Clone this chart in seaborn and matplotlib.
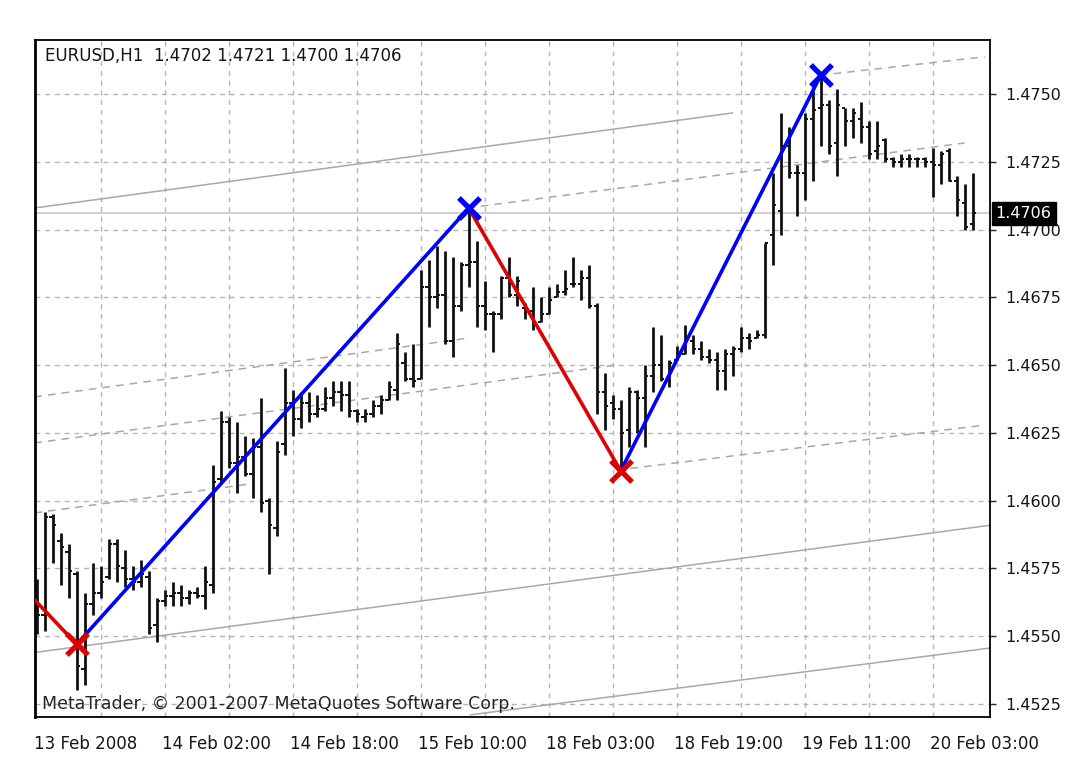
import numpy as np
import pandas as pd
import matplotlib
matplotlib.use("Agg")
import matplotlib.pyplot as plt
import matplotlib.transforms as mtrans
import seaborn as sns

# ---------------- data ----------------
opens = [1.4566, 1.4558, 1.4594, 1.4585, 1.4581, 1.4573, 1.4538, 1.4562, 1.4566, 1.4572,
         1.4584, 1.4575, 1.4571, 1.4570, 1.4572, 1.4554, 1.4563, 1.4565, 1.4566, 1.4564,
         1.4566, 1.4565, 1.4569, 1.4608, 1.4629, 1.4614, 1.4616, 1.4610, 1.4620, 1.4600,
         1.4590, 1.4621, 1.4636, 1.4630, 1.4636, 1.4632, 1.4634, 1.4638, 1.4640, 1.4639,
         1.4633, 1.4631, 1.4632, 1.4635, 1.4637, 1.4641, 1.4651, 1.4645, 1.4645, 1.4679,
         1.4675, 1.4676, 1.4659, 1.4672, 1.4687, 1.4688, 1.4672, 1.4669, 1.4669, 1.4682,
         1.4676, 1.4671, 1.4670, 1.4666, 1.4669, 1.4675, 1.4677, 1.4680, 1.4680, 1.4682,
         1.4672, 1.4640, 1.4636, 1.4634, 1.4626, 1.4640, 1.4638, 1.4646, 1.4650, 1.4645,
         1.4652, 1.4654, 1.4659, 1.4656, 1.4653, 1.4652, 1.4648, 1.4654, 1.4656, 1.4660,
         1.4660, 1.4661, 1.4698, 1.4707, 1.4731, 1.4721, 1.4721, 1.4741, 1.4745, 1.4746,
         1.4732, 1.4745, 1.4740, 1.4741, 1.4738, 1.4729, 1.4733, 1.4726, 1.4725, 1.4726,
         1.4726, 1.4726, 1.4725, 1.4724, 1.4729, 1.4718, 1.4710, 1.4702]
highs = [1.4571, 1.4596, 1.4595, 1.4588, 1.4584, 1.4574, 1.4566, 1.4577, 1.4576, 1.4586,
         1.4586, 1.4582, 1.4576, 1.4578, 1.4574, 1.4564, 1.4567, 1.4570, 1.4569, 1.4567,
         1.4568, 1.4576, 1.4613, 1.4633, 1.4631, 1.4629, 1.4624, 1.4623, 1.4638, 1.4601,
         1.4622, 1.4649, 1.4641, 1.4640, 1.4640, 1.4639, 1.4642, 1.4644, 1.4644, 1.4644,
         1.4634, 1.4634, 1.4637, 1.4639, 1.4644, 1.4662, 1.4655, 1.4658, 1.4685, 1.4689,
         1.4694, 1.4692, 1.4690, 1.4688, 1.4707, 1.4696, 1.4681, 1.4670, 1.4683, 1.4690,
         1.4683, 1.4673, 1.4679, 1.4675, 1.4679, 1.4680, 1.4685, 1.4690, 1.4685, 1.4687,
         1.4673, 1.4647, 1.4639, 1.4637, 1.4642, 1.4641, 1.4650, 1.4664, 1.4661, 1.4652,
         1.4657, 1.4665, 1.4661, 1.4659, 1.4656, 1.4655, 1.4656, 1.4657, 1.4664, 1.4662,
         1.4663, 1.4695, 1.4721, 1.4743, 1.4738, 1.4724, 1.4743, 1.4751, 1.4757, 1.4748,
         1.4752, 1.4745, 1.4745, 1.4747, 1.4740, 1.4740, 1.4734, 1.4727, 1.4728, 1.4728,
         1.4727, 1.4727, 1.4730, 1.4729, 1.4730, 1.4720, 1.4717, 1.4721]
lows = [1.4551, 1.4552, 1.4577, 1.4569, 1.4564, 1.4530, 1.4532, 1.4558, 1.4564, 1.4571,
        1.4570, 1.4568, 1.4567, 1.4568, 1.4551, 1.4548, 1.4561, 1.4561, 1.4561, 1.4562,
        1.4564, 1.4560, 1.4566, 1.4606, 1.4612, 1.4603, 1.4609, 1.4601, 1.4596, 1.4573,
        1.4587, 1.4617, 1.4624, 1.4627, 1.4629, 1.4631, 1.4633, 1.4635, 1.4633, 1.4631,
        1.4629, 1.4629, 1.4631, 1.4632, 1.4637, 1.4637, 1.4644, 1.4642, 1.4645, 1.4664,
        1.4671, 1.4658, 1.4653, 1.4670, 1.4679, 1.4664, 1.4663, 1.4655, 1.4667, 1.4675,
        1.4672, 1.4667, 1.4663, 1.4666, 1.4669, 1.4675, 1.4676, 1.4679, 1.4674, 1.4671,
        1.4632, 1.4626, 1.4630, 1.4611, 1.4620, 1.4625, 1.4620, 1.4640, 1.4644, 1.4642,
        1.4652, 1.4654, 1.4654, 1.4652, 1.4651, 1.4641, 1.4641, 1.4646, 1.4655, 1.4656,
        1.4660, 1.4660, 1.4687, 1.4698, 1.4719, 1.4705, 1.4711, 1.4718, 1.4731, 1.4728,
        1.4720, 1.4731, 1.4734, 1.4732, 1.4726, 1.4726, 1.4725, 1.4723, 1.4723, 1.4723,
        1.4723, 1.4723, 1.4712, 1.4717, 1.4718, 1.4705, 1.4700, 1.4700]
closes = [1.4558, 1.4594, 1.4591, 1.4583, 1.4574, 1.4539, 1.4562, 1.4566, 1.4570, 1.4584,
          1.4576, 1.4571, 1.4570, 1.4573, 1.4553, 1.4563, 1.4565, 1.4566, 1.4564, 1.4566,
          1.4565, 1.4570, 1.4607, 1.4629, 1.4614, 1.4616, 1.4610, 1.4620, 1.4599, 1.4591,
          1.4618, 1.4636, 1.4630, 1.4636, 1.4632, 1.4634, 1.4638, 1.4640, 1.4639, 1.4633,
          1.4632, 1.4632, 1.4635, 1.4637, 1.4642, 1.4658, 1.4645, 1.4644, 1.4679, 1.4675,
          1.4676, 1.4659, 1.4672, 1.4687, 1.4688, 1.4672, 1.4669, 1.4669, 1.4682, 1.4676,
          1.4681, 1.4670, 1.4666, 1.4669, 1.4674, 1.4677, 1.4678, 1.4680, 1.4682, 1.4672,
          1.4640, 1.4635, 1.4634, 1.4625, 1.4640, 1.4638, 1.4646, 1.4650, 1.4645, 1.4651,
          1.4654, 1.4659, 1.4656, 1.4653, 1.4652, 1.4648, 1.4654, 1.4656, 1.4660, 1.4659,
          1.4661, 1.4695, 1.4709, 1.4731, 1.4721, 1.4721, 1.4741, 1.4744, 1.4746, 1.4731,
          1.4746, 1.4740, 1.4743, 1.4738, 1.4728, 1.4731, 1.4726, 1.4725, 1.4726, 1.4726,
          1.4726, 1.4725, 1.4724, 1.4728, 1.4718, 1.4711, 1.4701, 1.4706]

# ZigZag turning points (bar index, price)
zz_bar = [-3, 5, 54, 73, 98]
zz_price = [1.4572, 1.4547, 1.4708, 1.4611, 1.4757]

# channel / trend lines: start bar, start price, end bar, end price, dashed?
line_b0 = [-0.3, -0.3, 54.2, -0.3, -0.3, 53.8, 97.9, 72.5, -0.3]
line_p0 = [1.4708, 1.4544, 1.4521, 1.46383, 1.46213, 1.4708, 1.4757, 1.46113, 1.45955]
line_b1 = [87.0, 119.3, 119.3, 54.2, 72.5, 116.0, 118.5, 118.5, 26.7]
line_p1 = [1.47431, 1.4591, 1.45457, 1.46601, 1.46501, 1.4732, 1.47638, 1.46279, 1.46062]
line_dash = [False, False, False, True, True, True, True, True, True]

last_price = 1.4706
y_ticks = [1.4525, 1.4550, 1.4575, 1.4600, 1.4625, 1.4650, 1.4675, 1.4700, 1.4725, 1.4750]
x_tick_bars = [0, 16, 32, 48, 64, 80, 96, 112]
x_tick_labels = ["13 Feb 2008", "14 Feb 02:00", "14 Feb 18:00", "15 Feb 10:00",
                 "18 Feb 03:00", "18 Feb 19:00", "19 Feb 11:00", "20 Feb 03:00"]
header = "EURUSD,H1  1.4702 1.4721 1.4700 1.4706"
copyright_txt = "MetaTrader, \u00a9 2001-2007 MetaQuotes Software Corp."

# ---------------- figure ----------------
sns.set_style("white")
plt.rcParams['font.family'] = ['DejaVu Sans']

W, H = 1087, 764
fig = plt.figure(figsize=(W / 100, H / 100), dpi=100)
fig.patch.set_facecolor("white")
ax = fig.add_axes([35 / W, 1 - 717 / H, (990 - 35) / W, (717 - 40) / H])

df = pd.DataFrame({"bar": np.arange(len(opens)), "open": opens, "high": highs,
                   "low": lows, "close": closes})

ax.set_xlim(-0.21, 119.16)
ax.set_ylim(1.45202, 1.47700)

# grid
grid_kw = dict(color="#b4b4b4", lw=1.0, ls=(0, (3.5, 3.5)), zorder=0)
for b in range(8, 120, 8):
    ax.axvline(b, **grid_kw)
for p in y_ticks:
    ax.axhline(p, **grid_kw)

# channel lines
for b0, p0, b1, p1, d in zip(line_b0, line_p0, line_b1, line_p1, line_dash):
    ax.plot([b0, b1], [p0, p1], color="#a8a8a8", lw=1.1,
            ls=(0, (5, 4)) if d else "-", zorder=1)

# last price line
ax.axhline(last_price, color="#c8c8c8", lw=1.2, zorder=1)

# OHLC bars
ax.vlines(df["bar"], df["low"], df["high"], color="#111111", lw=2.0, zorder=3)
ax.hlines(df["open"], df["bar"] - 0.4, df["bar"], color="#111111", lw=1.4, zorder=3)
ax.hlines(df["close"], df["bar"], df["bar"] + 0.4, color="#111111", lw=1.4, zorder=3)

# ZigZag
zz = pd.DataFrame({"bar": zz_bar, "price": zz_price})
for k in range(len(zz) - 1):
    seg = zz.iloc[k:k + 2]
    col = "#0000ff" if seg["price"].iloc[1] > seg["price"].iloc[0] else "#e00000"
    sns.lineplot(data=seg, x="bar", y="price", color=col, lw=2.6, sort=False,
                 ax=ax, zorder=4)
peaks = zz.iloc[1:]
cols = ["#e00000" if i % 2 == 0 else "#0000ff" for i in range(len(peaks))]
for (_, r), c in zip(peaks.iterrows(), cols):
    sns.scatterplot(x=[r["bar"]], y=[r["price"]], marker="x", s=230, color=c,
                    linewidth=3.8, ax=ax, zorder=5)

# axes styling
for s in ax.spines.values():
    s.set_color("black")
    s.set_linewidth(1.3)
    s.set_visible(True)
ax.spines["left"].set_linewidth(2.0)

ax.yaxis.tick_right()
ax.set_yticks(y_ticks)
ax.set_yticklabels([f"{v:.4f}" for v in y_ticks])
ax.tick_params(axis="y", which="both", right=True, left=False, direction="out",
               length=4, width=1, pad=7, labelsize=11.5, labelcolor="#151515")
ax.set_xticks(x_tick_bars)
ax.set_xticklabels(x_tick_labels, ha="left")
ax.tick_params(axis="x", direction="out", length=5, width=1, pad=8,
               labelsize=12, labelcolor="#151515")
for lab in ax.get_xticklabels():
    lab.set_transform(lab.get_transform() + mtrans.ScaledTranslation(-3 / 100, 0, fig.dpi_scale_trans))
ax.set_xlabel("")
ax.set_ylabel("")

# header & copyright
ax.text(0.0105, 0.99, header, transform=ax.transAxes, ha="left", va="top",
        fontsize=12, color="#151515", zorder=6)
ax.text(0.0073, 0.006, copyright_txt, transform=ax.transAxes, ha="left",
        va="bottom", fontsize=12.5, color="#252525", zorder=6)

# last price tag
trans = mtrans.blended_transform_factory(ax.transAxes, ax.transData)
ax.text(1.006, last_price, f"{last_price:.4f}", transform=trans, ha="left",
        va="center", fontsize=11.5, color="white", clip_on=False, zorder=10,
        bbox=dict(boxstyle="square,pad=0.25", facecolor="black", edgecolor="black"))

fig.savefig("out.png", dpi=100, facecolor="white")
